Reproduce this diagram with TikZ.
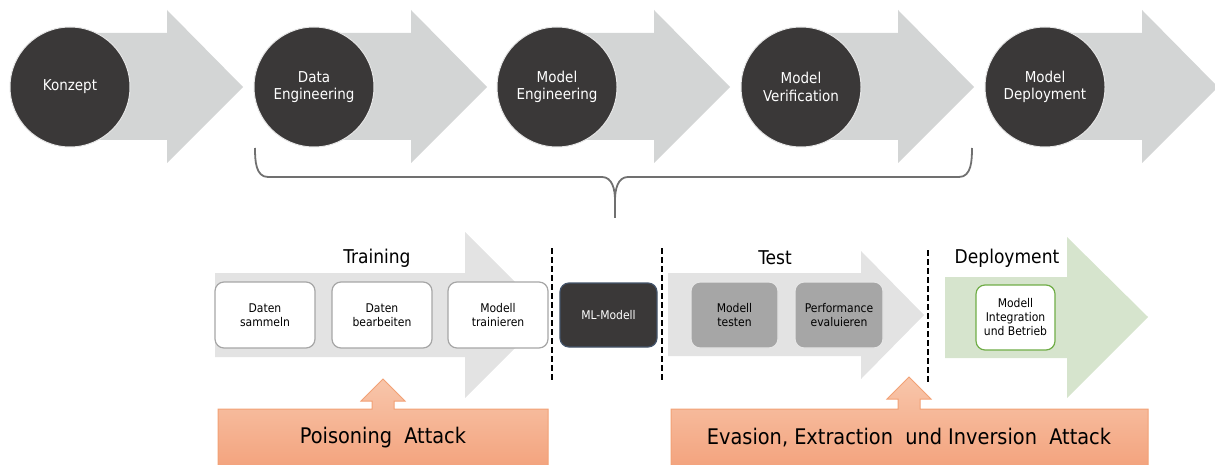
\documentclass[tikz,border=0pt]{standalone}
\usepackage{fontspec}
\setmainfont{DejaVu Sans Condensed}
\definecolor{topgray}{HTML}{D3D5D5}
\definecolor{lowgray}{HTML}{E3E3E3}
\definecolor{dark}{HTML}{3A3838}
\definecolor{ring}{HTML}{E6E6E6}
\definecolor{greenfill}{HTML}{D6E4CD}
\definecolor{greenline}{HTML}{70AD47}
\definecolor{boxline}{HTML}{A6A6A6}
\definecolor{midgray}{HTML}{A6A6A6}
\definecolor{mlline}{HTML}{44546A}
\definecolor{orangetop}{HTML}{F8C6AB}
\definecolor{orangebot}{HTML}{F3A27C}
\definecolor{orangeline}{HTML}{F2A175}
\definecolor{bracegray}{HTML}{707070}
\begin{document}
\begin{tikzpicture}[x=1pt,y=-1pt,
  phase/.style={circle,fill=dark,draw=ring,line width=1pt,minimum size=120pt,inner sep=0pt,
    text=white,align=center,font=\fontsize{15}{17.5}\selectfont},
  stepbox/.style={rounded corners=9pt,draw=boxline,line width=1.2pt,fill=white,
    minimum width=100pt,minimum height=66pt,inner sep=0pt,align=center,
    font=\fontsize{12}{14}\selectfont},
  testbox/.style={stepbox,fill=midgray,draw=white!90!black,minimum width=88pt},
  mlbox/.style={stepbox,fill=dark,draw=mlline,text=white,minimum width=97pt,minimum height=64pt},
  deploybox/.style={stepbox,draw=greenline,minimum width=79pt,minimum height=65pt},
  stagelabel/.style={font=\fontsize{19}{22}\selectfont,inner sep=0pt},
  dashline/.style={black,line width=1.4pt,dash pattern=on 6pt off 3pt},
  brace/.style={bracegray,line width=1.8pt},
  attack/.style={top color=orangetop,bottom color=orangebot,draw=orangeline,line width=1pt},
  attacktext/.style={font=\fontsize{21.5}{24}\selectfont,inner sep=0pt}
]
\useasboundingbox (0,0) rectangle (1215,465);
% top process arrows
\foreach \cx in {70,314,557,801,1045} {
  \fill[topgray] (\cx,33) -- (\cx+97,33) -- (\cx+97,10) -- (\cx+173,87) -- (\cx+97,163)
    -- (\cx+97,140) -- (\cx,140) -- cycle;
}
\node[phase] (konzept) at (70,87) {Konzept};
\node[phase] (dataeng) at (314,87) {Data\\Engineering};
\node[phase] (modeleng) at (557,87) {Model\\Engineering};
\node[phase] (modelver) at (801,87) {Model\\Verification};
\node[phase] (modeldep) at (1045,87) {Model\\Deployment};
% brace
\coordinate (bl) at (255,148);
\coordinate (br) at (972,148);
\coordinate (bm) at (615,218);
\draw[brace] (bl) to[out=-90,in=180] (268,177) -- (602,177) to[out=0,in=90] (615,200) -- (bm);
\draw[brace] (615,200) to[out=90,in=180] (628,177) -- (959,177) to[out=0,in=-90] (br);
% lower arrows
\fill[lowgray] (215,273) -- (465,273) -- (465,232) -- (548,315) -- (465,398) -- (465,357) -- (215,357) -- cycle;
\fill[lowgray] (668,273) -- (861,273) -- (861,251) -- (924,315) -- (861,379) -- (861,356) -- (668,356) -- cycle;
\fill[greenfill] (945,277) -- (1067,277) -- (1067,237) -- (1148,317) -- (1067,398) -- (1067,358) -- (945,358) -- cycle;
\node[stagelabel] (training) at (377,258) {Training};
\node[stagelabel] (test) at (775,258) {Test};
\node[stagelabel] (deployment) at (1007,258) {Deployment};
% boxes
\node[stepbox] (sammeln) at (265,315) {Daten\\sammeln};
\node[stepbox] (bearbeiten) at (382,315) {Daten\\bearbeiten};
\node[stepbox] (trainieren) at (498,315) {Modell\\trainieren};
\node[mlbox] (ml) at (608.5,315) {ML-Modell};
\node[testbox,minimum width=87pt] (testen) at (734.5,315) {Modell\\testen};
\node[testbox] (perf) at (839,315) {Performance\\evaluieren};
\node[deploybox] (integ) at (1015.5,317.5) {Modell\\Integration\\und Betrieb};
% dashed separators
\draw[dashline] (552,248) -- (552,382);
\draw[dashline] (662,248) -- (662,382);
\draw[dashline] (928,250) -- (928,383);
% attacks
\path[attack] (218,470) -- (218,409) -- (372,409) -- (372,401) -- (361,401) -- (383,379) -- (405,401)
  -- (394,401) -- (394,409) -- (548,409) -- (548,470) -- cycle;
\node[attacktext] (poison) at (383,438) {Poisoning\ \ Attack};
\path[attack] (671,470) -- (671,409) -- (898,409) -- (898,399) -- (887,399) -- (909,377) -- (931,399)
  -- (920,399) -- (920,409) -- (1148,409) -- (1148,470) -- cycle;
\node[attacktext] (evasion) at (909,438) {Evasion, Extraction\ \ und Inversion\ \ Attack};
\end{tikzpicture}
\end{document}
